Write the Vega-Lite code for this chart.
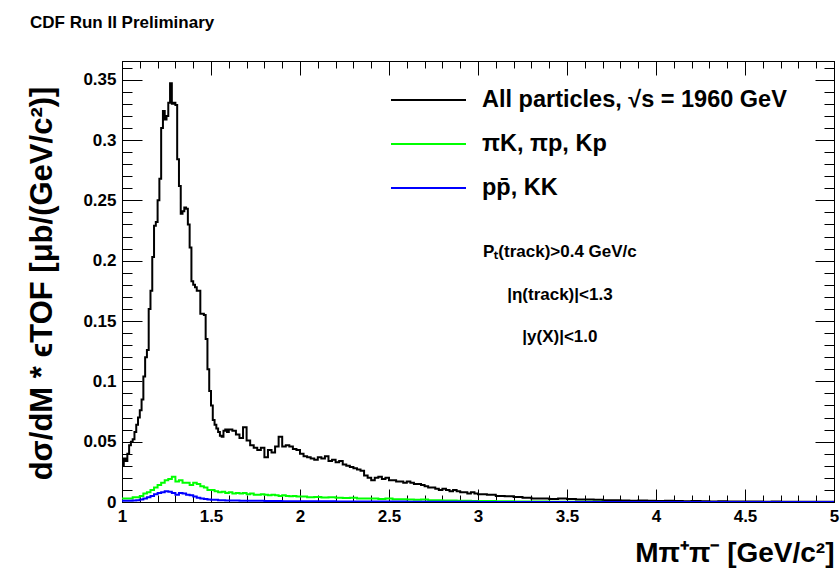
{
  "$schema": "https://vega.github.io/schema/vega-lite/v6.json",
  "width": 712,
  "height": 441,
  "autosize": {"type": "none"},
  "padding": {"left": 122, "top": 61, "right": 6, "bottom": 79},
  "background": "white",
  "config": {
    "view": {"stroke": "black", "strokeWidth": 1},
    "font": "Liberation Sans"
  },
  "title": {
    "text": "CDF Run II Preliminary",
    "anchor": "start",
    "frame": "group",
    "dx": -92,
    "offset": 10,
    "baseline": "bottom",
    "font": "Liberation Sans",
    "fontSize": 17,
    "fontWeight": "bold",
    "color": "black"
  },
  "datasets": {
    "all": [
      {"m": 1.00, "v": 0.030}, {"m": 1.01, "v": 0.036}, {"m": 1.02, "v": 0.034}, {"m": 1.03, "v": 0.040},
      {"m": 1.04, "v": 0.047}, {"m": 1.05, "v": 0.050}, {"m": 1.06, "v": 0.052}, {"m": 1.07, "v": 0.058},
      {"m": 1.08, "v": 0.064}, {"m": 1.09, "v": 0.070}, {"m": 1.10, "v": 0.076}, {"m": 1.11, "v": 0.085},
      {"m": 1.12, "v": 0.104}, {"m": 1.13, "v": 0.120}, {"m": 1.14, "v": 0.126}, {"m": 1.15, "v": 0.160},
      {"m": 1.16, "v": 0.175}, {"m": 1.17, "v": 0.203}, {"m": 1.18, "v": 0.229}, {"m": 1.19, "v": 0.232},
      {"m": 1.20, "v": 0.250}, {"m": 1.21, "v": 0.268}, {"m": 1.22, "v": 0.310}, {"m": 1.23, "v": 0.324},
      {"m": 1.24, "v": 0.317}, {"m": 1.25, "v": 0.320}, {"m": 1.26, "v": 0.331}, {"m": 1.27, "v": 0.347},
      {"m": 1.28, "v": 0.330}, {"m": 1.29, "v": 0.331}, {"m": 1.30, "v": 0.329}, {"m": 1.31, "v": 0.284},
      {"m": 1.32, "v": 0.262}, {"m": 1.33, "v": 0.239}, {"m": 1.34, "v": 0.241}, {"m": 1.35, "v": 0.244},
      {"m": 1.36, "v": 0.243}, {"m": 1.37, "v": 0.230}, {"m": 1.38, "v": 0.211}, {"m": 1.39, "v": 0.183},
      {"m": 1.40, "v": 0.180}, {"m": 1.41, "v": 0.178}, {"m": 1.42, "v": 0.175}, {"m": 1.43, "v": 0.175},
      {"m": 1.44, "v": 0.156}, {"m": 1.45, "v": 0.156}, {"m": 1.46, "v": 0.155}, {"m": 1.47, "v": 0.135},
      {"m": 1.48, "v": 0.110}, {"m": 1.49, "v": 0.092}, {"m": 1.50, "v": 0.080}, {"m": 1.51, "v": 0.068},
      {"m": 1.52, "v": 0.064}, {"m": 1.53, "v": 0.061}, {"m": 1.54, "v": 0.058}, {"m": 1.55, "v": 0.055},
      {"m": 1.56, "v": 0.054}, {"m": 1.57, "v": 0.059}, {"m": 1.58, "v": 0.060}, {"m": 1.59, "v": 0.058},
      {"m": 1.60, "v": 0.060}, {"m": 1.62, "v": 0.059}, {"m": 1.64, "v": 0.056}, {"m": 1.66, "v": 0.053},
      {"m": 1.68, "v": 0.062}, {"m": 1.70, "v": 0.051}, {"m": 1.72, "v": 0.047}, {"m": 1.74, "v": 0.045},
      {"m": 1.76, "v": 0.043}, {"m": 1.78, "v": 0.045}, {"m": 1.80, "v": 0.037}, {"m": 1.82, "v": 0.043},
      {"m": 1.84, "v": 0.041}, {"m": 1.86, "v": 0.046}, {"m": 1.88, "v": 0.054}, {"m": 1.90, "v": 0.046},
      {"m": 1.92, "v": 0.047}, {"m": 1.94, "v": 0.046}, {"m": 1.96, "v": 0.044}, {"m": 1.98, "v": 0.043},
      {"m": 2.00, "v": 0.040}, {"m": 2.02, "v": 0.038}, {"m": 2.04, "v": 0.037}, {"m": 2.06, "v": 0.036},
      {"m": 2.08, "v": 0.035}, {"m": 2.10, "v": 0.037}, {"m": 2.12, "v": 0.036}, {"m": 2.14, "v": 0.038},
      {"m": 2.16, "v": 0.034}, {"m": 2.18, "v": 0.035}, {"m": 2.20, "v": 0.033}, {"m": 2.22, "v": 0.034},
      {"m": 2.24, "v": 0.031}, {"m": 2.26, "v": 0.030}, {"m": 2.28, "v": 0.029}, {"m": 2.30, "v": 0.028},
      {"m": 2.32, "v": 0.027}, {"m": 2.34, "v": 0.026}, {"m": 2.36, "v": 0.022}, {"m": 2.38, "v": 0.020},
      {"m": 2.40, "v": 0.018}, {"m": 2.42, "v": 0.020}, {"m": 2.44, "v": 0.021}, {"m": 2.46, "v": 0.019},
      {"m": 2.48, "v": 0.020}, {"m": 2.50, "v": 0.018}, {"m": 2.52, "v": 0.018}, {"m": 2.54, "v": 0.017},
      {"m": 2.56, "v": 0.017}, {"m": 2.58, "v": 0.016}, {"m": 2.60, "v": 0.017}, {"m": 2.62, "v": 0.016},
      {"m": 2.64, "v": 0.015}, {"m": 2.66, "v": 0.015}, {"m": 2.68, "v": 0.014}, {"m": 2.70, "v": 0.013},
      {"m": 2.72, "v": 0.012}, {"m": 2.74, "v": 0.012}, {"m": 2.76, "v": 0.011}, {"m": 2.78, "v": 0.010},
      {"m": 2.80, "v": 0.011}, {"m": 2.82, "v": 0.010}, {"m": 2.84, "v": 0.009}, {"m": 2.86, "v": 0.010},
      {"m": 2.88, "v": 0.009}, {"m": 2.90, "v": 0.008}, {"m": 2.92, "v": 0.008}, {"m": 2.94, "v": 0.007},
      {"m": 2.96, "v": 0.008}, {"m": 2.98, "v": 0.007}, {"m": 3.00, "v": 0.0065}, {"m": 3.05, "v": 0.006},
      {"m": 3.10, "v": 0.005}, {"m": 3.15, "v": 0.0048}, {"m": 3.20, "v": 0.0042}, {"m": 3.25, "v": 0.0035},
      {"m": 3.30, "v": 0.003}, {"m": 3.35, "v": 0.003}, {"m": 3.40, "v": 0.0025}, {"m": 3.45, "v": 0.003},
      {"m": 3.50, "v": 0.0025}, {"m": 3.55, "v": 0.002}, {"m": 3.60, "v": 0.002}, {"m": 3.65, "v": 0.0018},
      {"m": 3.70, "v": 0.0015}, {"m": 3.75, "v": 0.0015}, {"m": 3.80, "v": 0.0012}, {"m": 3.85, "v": 0.001},
      {"m": 3.90, "v": 0.0012}, {"m": 3.95, "v": 0.001}, {"m": 4.00, "v": 0.0008}, {"m": 4.05, "v": 0.001},
      {"m": 4.10, "v": 0.0008}, {"m": 4.15, "v": 0.0007}, {"m": 4.20, "v": 0.0008}, {"m": 4.25, "v": 0.0006},
      {"m": 4.30, "v": 0.0005}, {"m": 4.35, "v": 0.0007}, {"m": 4.40, "v": 0.0005}, {"m": 4.45, "v": 0.0004},
      {"m": 4.50, "v": 0.0005}, {"m": 4.55, "v": 0.0004}, {"m": 4.60, "v": 0.0003}, {"m": 4.65, "v": 0.0004},
      {"m": 4.70, "v": 0.0003}, {"m": 4.75, "v": 0.0003}, {"m": 4.80, "v": 0.0002}, {"m": 4.85, "v": 0.0003},
      {"m": 4.90, "v": 0.0002}, {"m": 4.95, "v": 0.0002}, {"m": 5.00, "v": 0.0002}
    ],
    "mix": [
      {"m": 1.00, "v": 0.003}, {"m": 1.02, "v": 0.003}, {"m": 1.04, "v": 0.003}, {"m": 1.06, "v": 0.004},
      {"m": 1.08, "v": 0.004}, {"m": 1.10, "v": 0.005}, {"m": 1.12, "v": 0.007}, {"m": 1.14, "v": 0.008},
      {"m": 1.16, "v": 0.010}, {"m": 1.18, "v": 0.012}, {"m": 1.20, "v": 0.014}, {"m": 1.22, "v": 0.016},
      {"m": 1.24, "v": 0.018}, {"m": 1.26, "v": 0.019}, {"m": 1.28, "v": 0.021}, {"m": 1.30, "v": 0.017},
      {"m": 1.32, "v": 0.018}, {"m": 1.34, "v": 0.016}, {"m": 1.36, "v": 0.016}, {"m": 1.38, "v": 0.014},
      {"m": 1.40, "v": 0.016}, {"m": 1.42, "v": 0.015}, {"m": 1.44, "v": 0.013}, {"m": 1.46, "v": 0.012},
      {"m": 1.48, "v": 0.010}, {"m": 1.50, "v": 0.010}, {"m": 1.52, "v": 0.009}, {"m": 1.54, "v": 0.008},
      {"m": 1.56, "v": 0.0085}, {"m": 1.58, "v": 0.0075}, {"m": 1.60, "v": 0.008}, {"m": 1.62, "v": 0.007},
      {"m": 1.64, "v": 0.0075}, {"m": 1.66, "v": 0.007}, {"m": 1.68, "v": 0.0075}, {"m": 1.70, "v": 0.0065},
      {"m": 1.72, "v": 0.007}, {"m": 1.74, "v": 0.006}, {"m": 1.76, "v": 0.006}, {"m": 1.78, "v": 0.0065},
      {"m": 1.80, "v": 0.006}, {"m": 1.82, "v": 0.0055}, {"m": 1.84, "v": 0.006}, {"m": 1.86, "v": 0.0055},
      {"m": 1.88, "v": 0.005}, {"m": 1.90, "v": 0.0055}, {"m": 1.92, "v": 0.005}, {"m": 1.94, "v": 0.0048},
      {"m": 1.96, "v": 0.005}, {"m": 1.98, "v": 0.0045}, {"m": 2.00, "v": 0.0045}, {"m": 2.04, "v": 0.004},
      {"m": 2.08, "v": 0.0042}, {"m": 2.12, "v": 0.0038}, {"m": 2.16, "v": 0.004}, {"m": 2.20, "v": 0.0035},
      {"m": 2.24, "v": 0.0033}, {"m": 2.28, "v": 0.0035}, {"m": 2.32, "v": 0.003}, {"m": 2.36, "v": 0.0028},
      {"m": 2.40, "v": 0.003}, {"m": 2.44, "v": 0.0025}, {"m": 2.48, "v": 0.0028}, {"m": 2.52, "v": 0.0023},
      {"m": 2.56, "v": 0.0022}, {"m": 2.60, "v": 0.002}, {"m": 2.64, "v": 0.0018}, {"m": 2.68, "v": 0.002},
      {"m": 2.72, "v": 0.0015}, {"m": 2.76, "v": 0.0015}, {"m": 2.80, "v": 0.0012}, {"m": 2.84, "v": 0.0013},
      {"m": 2.88, "v": 0.001}, {"m": 2.92, "v": 0.001}, {"m": 2.96, "v": 0.0008}, {"m": 3.00, "v": 0.0008},
      {"m": 3.10, "v": 0.0006}, {"m": 3.20, "v": 0.0005}, {"m": 3.30, "v": 0.0004}, {"m": 3.40, "v": 0.0003},
      {"m": 3.50, "v": 0.0002}, {"m": 3.60, "v": 0.0002}, {"m": 3.70, "v": 0.0001}, {"m": 3.80, "v": 0.0001},
      {"m": 4.00, "v": 0.0001}, {"m": 4.20, "v": 0}, {"m": 5.00, "v": 0}
    ],
    "pp": [
      {"m": 1.00, "v": 0.001}, {"m": 1.02, "v": 0.001}, {"m": 1.04, "v": 0.001}, {"m": 1.06, "v": 0.0012},
      {"m": 1.08, "v": 0.0015}, {"m": 1.10, "v": 0.002}, {"m": 1.12, "v": 0.003}, {"m": 1.14, "v": 0.004},
      {"m": 1.16, "v": 0.005}, {"m": 1.18, "v": 0.0065}, {"m": 1.20, "v": 0.0075}, {"m": 1.22, "v": 0.008},
      {"m": 1.24, "v": 0.009}, {"m": 1.26, "v": 0.0085}, {"m": 1.28, "v": 0.0075}, {"m": 1.30, "v": 0.006},
      {"m": 1.32, "v": 0.0075}, {"m": 1.34, "v": 0.007}, {"m": 1.36, "v": 0.006}, {"m": 1.38, "v": 0.0055},
      {"m": 1.40, "v": 0.0045}, {"m": 1.42, "v": 0.0035}, {"m": 1.44, "v": 0.003}, {"m": 1.46, "v": 0.0025},
      {"m": 1.48, "v": 0.002}, {"m": 1.50, "v": 0.0018}, {"m": 1.54, "v": 0.0015}, {"m": 1.58, "v": 0.0013},
      {"m": 1.62, "v": 0.0012}, {"m": 1.66, "v": 0.001}, {"m": 1.70, "v": 0.001}, {"m": 1.80, "v": 0.0008},
      {"m": 1.90, "v": 0.0007}, {"m": 2.00, "v": 0.0006}, {"m": 2.20, "v": 0.0005}, {"m": 2.40, "v": 0.0004},
      {"m": 2.60, "v": 0.0003}, {"m": 2.80, "v": 0.0002}, {"m": 3.00, "v": 0.0001}, {"m": 3.50, "v": 0.0001},
      {"m": 4.00, "v": 0}, {"m": 5.00, "v": 0}
    ]
  },
  "resolve": {"axis": {"x": "independent", "y": "independent"}},
  "layer": [
    {
      "data": {"name": "all"},
      "mark": {"type": "line", "interpolate": "step-after", "strokeWidth": 2, "clip": true},
      "encoding": {
        "x": {
          "field": "m",
          "type": "quantitative",
          "scale": {"domain": [1, 5], "nice": false, "zero": false},
          "axis": {
            "orient": "bottom",
            "values": [1, 1.1, 1.2, 1.3, 1.4, 1.5, 1.6, 1.7, 1.8, 1.9, 2, 2.1, 2.2, 2.3, 2.4, 2.5, 2.6, 2.7, 2.8, 2.9, 3, 3.1, 3.2, 3.3, 3.4, 3.5, 3.6, 3.7, 3.8, 3.9, 4, 4.1, 4.2, 4.3, 4.4, 4.5, 4.6, 4.7, 4.8, 4.9, 5],
            "tickSize": {"condition": {"test": "abs(datum.value*2 - round(datum.value*2)) < 0.001", "value": -13}, "value": -7},
            "labelExpr": "abs(datum.value*2 - round(datum.value*2)) < 0.001 ? format(datum.value, '~g') : ''",
            "labelFont": "Liberation Sans",
            "labelFontWeight": "bold",
            "labelFontSize": 17,
            "labelColor": "black",
            "labelPadding": 19,
            "labelOverlap": false,
            "labelFlush": false,
            "tickColor": "black",
            "domainColor": "black",
            "grid": false,
            "title": "Mπ⁺π⁻   [GeV/c²]",
            "titleFont": "Liberation Sans",
            "titleFontWeight": "bold",
            "titleFontSize": 28,
            "titleColor": "black",
            "titleAnchor": "end",
            "titleAlign": "right",
            "titleBaseline": "middle",
            "titleX": 712,
            "titleY": 51
          }
        },
        "y": {
          "field": "v",
          "type": "quantitative",
          "scale": {"domain": [0, 0.3655], "nice": false},
          "axis": {
            "orient": "left",
            "values": [0, 0.01, 0.02, 0.03, 0.04, 0.05, 0.06, 0.07, 0.08, 0.09, 0.1, 0.11, 0.12, 0.13, 0.14, 0.15, 0.16, 0.17, 0.18, 0.19, 0.2, 0.21, 0.22, 0.23, 0.24, 0.25, 0.26, 0.27, 0.28, 0.29, 0.3, 0.31, 0.32, 0.33, 0.34, 0.35, 0.36],
            "tickSize": {"condition": {"test": "abs(datum.value*20 - round(datum.value*20)) < 0.001", "value": -20}, "value": -10},
            "labelExpr": "abs(datum.value*20 - round(datum.value*20)) < 0.001 ? format(datum.value, '~g') : ''",
            "labelFont": "Liberation Sans",
            "labelFontWeight": "bold",
            "labelFontSize": 17,
            "labelColor": "black",
            "labelPadding": 26,
            "labelOverlap": false,
            "labelFlush": false,
            "tickColor": "black",
            "domainColor": "black",
            "grid": false,
            "title": "dσ/dM *  ϵTOF  [μb/(GeV/c²)]",
            "titleFont": "Liberation Sans",
            "titleFontWeight": "bold",
            "titleFontSize": 31,
            "titleColor": "black",
            "titleAngle": -90,
            "titleAlign": "center",
            "titleBaseline": "middle",
            "titleX": -80,
            "titleY": 222
          }
        },
        "color": {
          "datum": "All particles,  √s = 1960 GeV",
          "type": "nominal",
          "scale": {
            "domain": ["All particles,  √s = 1960 GeV", "πK,  πp, Kp", "pp̄, KK"],
            "range": ["#000000", "#00ff00", "#0000ff"]
          },
          "legend": {
            "orient": "none",
            "legendX": 268,
            "legendY": 28,
            "title": null,
            "symbolType": "stroke",
            "symbolSize": 5625,
            "symbolStrokeWidth": 2,
            "clipHeight": 22,
            "rowPadding": 20,
            "labelOffset": 15,
            "labelFont": "Liberation Sans",
            "labelFontWeight": "bold",
            "labelFontSize": 23.5,
            "labelColor": "black",
            "labelLimit": 400
          }
        }
      }
    },
    {
      "data": {"name": "mix"},
      "mark": {"type": "line", "interpolate": "step-after", "strokeWidth": 2, "clip": true},
      "encoding": {
        "x": {
          "field": "m",
          "type": "quantitative",
          "axis": {
            "orient": "top",
            "values": [1, 1.1, 1.2, 1.3, 1.4, 1.5, 1.6, 1.7, 1.8, 1.9, 2, 2.1, 2.2, 2.3, 2.4, 2.5, 2.6, 2.7, 2.8, 2.9, 3, 3.1, 3.2, 3.3, 3.4, 3.5, 3.6, 3.7, 3.8, 3.9, 4, 4.1, 4.2, 4.3, 4.4, 4.5, 4.6, 4.7, 4.8, 4.9, 5],
            "tickSize": {"condition": {"test": "abs(datum.value*2 - round(datum.value*2)) < 0.001", "value": -14}, "value": -7},
            "labels": false,
            "tickColor": "black",
            "domainColor": "black",
            "grid": false,
            "title": null
          }
        },
        "y": {
          "field": "v",
          "type": "quantitative",
          "axis": {
            "orient": "right",
            "values": [0, 0.01, 0.02, 0.03, 0.04, 0.05, 0.06, 0.07, 0.08, 0.09, 0.1, 0.11, 0.12, 0.13, 0.14, 0.15, 0.16, 0.17, 0.18, 0.19, 0.2, 0.21, 0.22, 0.23, 0.24, 0.25, 0.26, 0.27, 0.28, 0.29, 0.3, 0.31, 0.32, 0.33, 0.34, 0.35, 0.36],
            "tickSize": {"condition": {"test": "abs(datum.value*20 - round(datum.value*20)) < 0.001", "value": -19}, "value": -10},
            "labels": false,
            "tickColor": "black",
            "domainColor": "black",
            "grid": false,
            "title": null
          }
        },
        "color": {"datum": "πK,  πp, Kp", "type": "nominal"}
      }
    },
    {
      "data": {"name": "pp"},
      "mark": {"type": "line", "interpolate": "step-after", "strokeWidth": 2, "clip": true},
      "encoding": {
        "x": {"field": "m", "type": "quantitative", "axis": null},
        "y": {"field": "v", "type": "quantitative", "axis": null},
        "color": {"datum": "pp̄, KK", "type": "nominal"}
      }
    },
    {
      "data": {"values": [{}]},
      "mark": {"type": "text", "font": "Liberation Sans", "fontWeight": "bold", "fontSize": 17, "align": "center", "baseline": "middle", "color": "black"},
      "encoding": {
        "x": {"datum": 3.46, "type": "quantitative", "axis": null},
        "y": {"datum": 0.2073, "type": "quantitative", "axis": null},
        "text": {"value": "Pₜ(track)>0.4 GeV/c"}
      }
    },
    {
      "data": {"values": [{}]},
      "mark": {"type": "text", "font": "Liberation Sans", "fontWeight": "bold", "fontSize": 17, "align": "center", "baseline": "middle", "color": "black"},
      "encoding": {
        "x": {"datum": 3.46, "type": "quantitative", "axis": null},
        "y": {"datum": 0.1716, "type": "quantitative", "axis": null},
        "text": {"value": "|η(track)|<1.3"}
      }
    },
    {
      "data": {"values": [{}]},
      "mark": {"type": "text", "font": "Liberation Sans", "fontWeight": "bold", "fontSize": 17, "align": "center", "baseline": "middle", "color": "black"},
      "encoding": {
        "x": {"datum": 3.46, "type": "quantitative", "axis": null},
        "y": {"datum": 0.1368, "type": "quantitative", "axis": null},
        "text": {"value": "|y(X)|<1.0"}
      }
    }
  ]
}
